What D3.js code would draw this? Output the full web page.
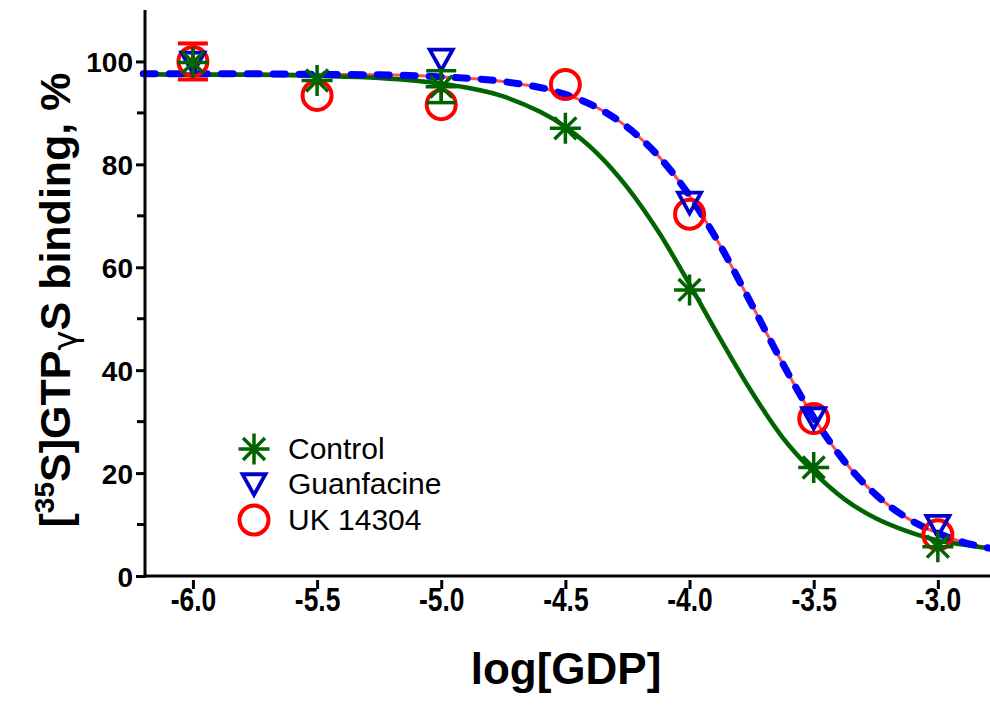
<!DOCTYPE html>
<html>
<head>
<meta charset="utf-8">
<script src="https://cdn.jsdelivr.net/npm/d3@7"></script>
<style>
  body { margin: 0; background: #fff; }
  svg { display: block; }
  text { font-family: "Liberation Sans", Arial, sans-serif; }
</style>
</head>
<body>
<div id="plot"></div>
<script>
// The SVG dimensions
const W = 990, H = 727;
const margin = {top: 10, right: 0, bottom: 151, left: 145};

// Measured points (log[GDP] vs % binding)
const doses = [-6.0, -5.5, -5.0, -4.5, -4.0, -3.5, -3.0];
const control = [99.8, 96.3, 95.1, 87.0, 55.6, 21.1, 5.7];
const controlErr = [0, 0, 3.1, 0, 0, 0, 0];
const guanfacine = [99.8, null, 100.4, null, 72.6, 30.7, 9.8];
const uk14304 = [100.0, 93.4, 91.6, 95.5, 70.3, 30.6, 8.0];
const ukErr = [3.5, 0, 0, 0, 0, 0, 0];

// Fitted curves
const fitX = [-6.2, -6.0, -5.75, -5.5, -5.25, -5.0, -4.75, -4.5, -4.375, -4.25, -4.125, -4.0,
              -3.875, -3.75, -3.625, -3.5, -3.375, -3.25, -3.125, -3.0, -2.9, -2.78];
const controlFit = [97.5, 97.4, 97.4, 97.2, 96.8, 95.7, 93.2, 87.3, 82.3, 75.5, 66.9, 56.7,
                    46.0, 35.8, 26.9, 20.2, 14.9, 11.2, 8.7, 6.9, 6.1, 5.3];
const guanFit = [97.6, 97.6, 97.6, 97.5, 97.4, 97.0, 96.1, 93.6, 91.1, 87.2, 81.6, 73.9,
                 64.1, 52.8, 41.3, 30.8, 22.2, 15.8, 11.3, 8.3, 6.6, 5.3];
const ukFit = [97.6, 97.6, 97.6, 97.5, 97.4, 97.0, 96.1, 93.6, 91.1, 87.2, 81.6, 73.9,
               64.1, 52.8, 41.3, 30.8, 22.2, 15.8, 11.3, 8.3, 6.6, 5.3];

const xTicks = [-6.0, -5.5, -5.0, -4.5, -4.0, -3.5, -3.0];
const yTicks = [0, 20, 40, 60, 80, 100];
const yMinor = [10, 30, 50, 70, 90];

const legendNames = ["Control", "Guanfacine", "UK 14304"];

const GREEN = "#006400", BLUE = "#0000c8", RED = "#ff0000";

// Set the scales
const x = d3.scaleLinear().domain([-6.193, -2.79]).range([margin.left, W - margin.right]);
const y = d3.scaleLinear().domain([0, 110]).range([H - margin.bottom, margin.top]);

const svg = d3.select("#plot").append("svg")
    .attr("width", W)
    .attr("height", H);

// custom symbols
const asterisk = {
  draw(ctx, r) {
    const d = r * Math.SQRT1_2;
    ctx.moveTo(0, -r); ctx.lineTo(0, r);
    ctx.moveTo(-r, 0); ctx.lineTo(r, 0);
    ctx.moveTo(-d, -d); ctx.lineTo(d, d);
    ctx.moveTo(-d, d); ctx.lineTo(d, -d);
  }
};
const triDown = {
  draw(ctx, r) {
    ctx.moveTo(-r, -r * 0.85);
    ctx.lineTo(r, -r * 0.85);
    ctx.lineTo(0, r * 0.95);
    ctx.closePath();
  }
};
const ring = {
  draw(ctx, r) { ctx.moveTo(r, 0); ctx.arc(0, 0, r, 0, 2 * Math.PI); }
};

// Curves
const line = d3.line()
    .x(d => x(d[0]))
    .y(d => y(d[1]))
    .curve(d3.curveMonotoneX);

svg.append("path")
    .datum(d3.zip(fitX, ukFit))
    .attr("fill", "none")
    .attr("stroke", "#ff5050")
    .attr("stroke-width", 3)
    .attr("d", line);

svg.append("path")
    .datum(d3.zip(fitX, controlFit))
    .attr("fill", "none")
    .attr("stroke", GREEN)
    .attr("stroke-width", 4.5)
    .attr("d", line);

svg.append("path")
    .datum(d3.zip(fitX, guanFit))
    .attr("fill", "none")
    .attr("stroke", "#0000ff")
    .attr("stroke-width", 7)
    .attr("stroke-linecap", "round")
    .attr("stroke-dasharray", "12,14")
    .attr("d", line);

// Points and error bars
function drawSeries(vals, errs, sym, size, color, sw) {
  const pts = doses.map((d, i) => ({x: d, y: vals[i], e: errs ? errs[i] : 0}))
      .filter(p => p.y != null);
  const g = svg.append("g");
  pts.filter(p => p.e > 0).forEach(p => {
    const cx = x(p.x);
    g.append("line").attr("x1", cx).attr("x2", cx)
        .attr("y1", y(p.y - p.e)).attr("y2", y(p.y + p.e))
        .attr("stroke", color).attr("stroke-width", sw);
    [p.y - p.e, p.y + p.e].forEach(v => {
      g.append("line").attr("x1", cx - 15).attr("x2", cx + 15)
          .attr("y1", y(v)).attr("y2", y(v))
          .attr("stroke", color).attr("stroke-width", sw);
    });
  });
  g.selectAll("path").data(pts).join("path")
      .attr("transform", p => `translate(${x(p.x)},${y(p.y)})`)
      .attr("d", d3.symbol(sym, size))
      .attr("fill", "none")
      .attr("stroke", color)
      .attr("stroke-width", sw);
}

drawSeries(uk14304, ukErr, ring, 14.5, RED, 4);
drawSeries(guanfacine, null, triDown, 11.5, BLUE, 3.8);
drawSeries(control, controlErr, asterisk, 15.5, GREEN, 3.5);

// Axes
const xAxis = svg.append("g")
    .attr("transform", `translate(0,${H - margin.bottom})`)
    .call(d3.axisBottom(x).tickValues(xTicks).tickSize(0).tickPadding(0).tickFormat(d3.format(".1f")));
xAxis.select(".domain").remove();
xAxis.append("line")
    .attr("x1", margin.left - 1.5).attr("x2", W)
    .attr("stroke", "#000").attr("stroke-width", 3);
xAxis.selectAll(".tick").append("line")
    .attr("y1", 4).attr("y2", 13)
    .attr("stroke", "#000").attr("stroke-width", 3);
xAxis.selectAll(".tick text")
    .attr("y", 35)
    .attr("dy", null)
    .attr("fill", "#000")
    .attr("font-size", 33)
    .attr("font-weight", "bold")
    .attr("transform", "scale(0.8,1)")
    .text(d => d3.format(".1f")(d).replace("\u2212", "-"));

const yAxis = svg.append("g")
    .attr("transform", `translate(${margin.left},0)`)
    .call(d3.axisLeft(y).tickValues(yTicks).tickSize(9).tickPadding(3));
yAxis.select(".domain").remove();
yAxis.append("line")
    .attr("y1", margin.top).attr("y2", H - margin.bottom + 1.5)
    .attr("stroke", "#000").attr("stroke-width", 3);
yAxis.selectAll(".tick line").attr("stroke-width", 3);
yAxis.selectAll(".tick text")
    .attr("fill", "#000")
    .attr("font-size", 28)
    .attr("font-weight", "bold")
    .attr("dy", "0.36em");
yAxis.selectAll(".minor").data(yMinor).join("line")
    .attr("class", "minor")
    .attr("x1", -8).attr("x2", 0)
    .attr("y1", d => y(d)).attr("y2", d => y(d))
    .attr("stroke", "#000").attr("stroke-width", 3);

// Axis titles
svg.append("text")
    .attr("x", 566).attr("y", 684)
    .attr("text-anchor", "middle")
    .attr("font-size", 44)
    .attr("font-weight", "bold")
    .text("log[GDP]");

const yTitle = svg.append("text")
    .attr("transform", "translate(70,300) rotate(-90)")
    .attr("text-anchor", "middle")
    .attr("font-size", 43)
    .attr("font-weight", "bold");
yTitle.append("tspan").text("[");
yTitle.append("tspan").attr("font-size", 28).attr("dy", -16).text("35");
yTitle.append("tspan").attr("dy", 16).text("S]GTP");
yTitle.append("tspan").attr("font-weight", "normal").attr("font-family", "DejaVu Sans").attr("font-size", 34).attr("dy", 7).text("γ");
yTitle.append("tspan").attr("dy", -7).text("S binding, %");

// Legend
const legend = svg.append("g");
const legSyms = [[asterisk, 15.5, GREEN, 3.5], [triDown, 11.5, BLUE, 3.8], [ring, 14.5, RED, 4]];
const legY = [449, 484, 520];
legendNames.forEach((name, i) => {
  const s = legSyms[i];
  legend.append("path")
      .attr("transform", `translate(254,${legY[i]})`)
      .attr("d", d3.symbol(s[0], s[1]))
      .attr("fill", "none").attr("stroke", s[2]).attr("stroke-width", s[3]);
  legend.append("text")
      .attr("x", 288).attr("y", legY[i] + 10)
      .attr("font-size", 30)
      .text(name);
});
</script>
</body>
</html>
